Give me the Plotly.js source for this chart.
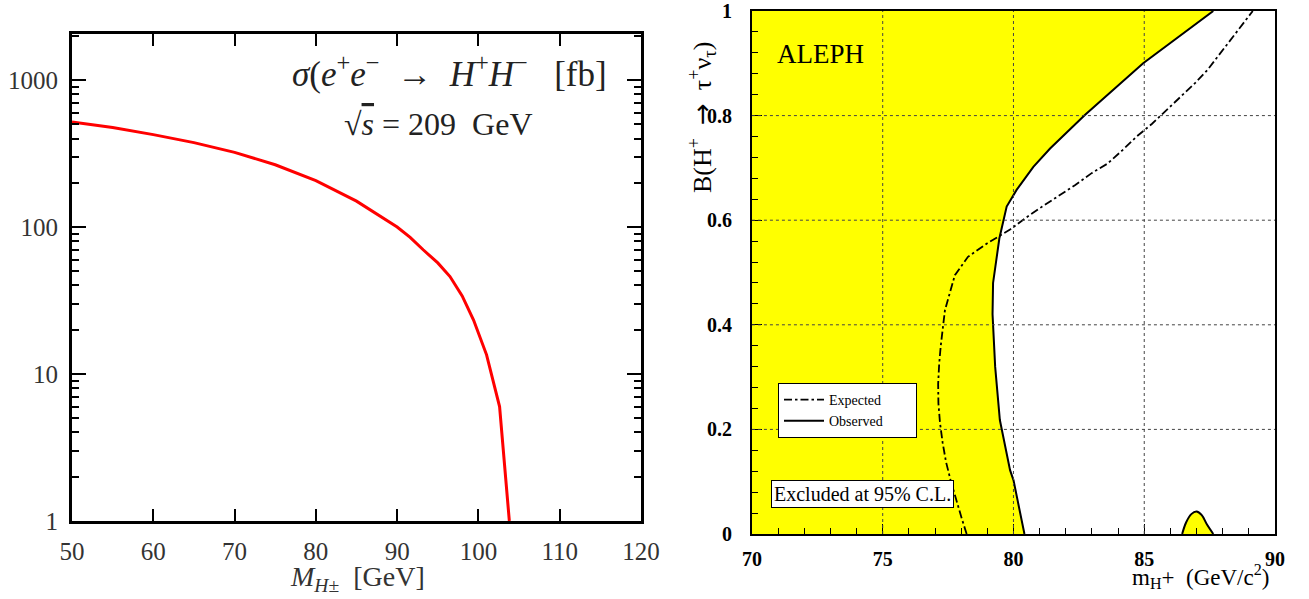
<!DOCTYPE html>
<html>
<head>
<meta charset="utf-8">
<script src="https://cdn.plot.ly/plotly-3.0.1.min.js"></script>
<style>html,body{margin:0;padding:0;background:#fff;}#chart{width:1309px;height:599px;}</style>
</head>
<body>
<div id="chart"></div>
<script>
// ---- Left panel: cross section sigma(e+e- -> H+H-) [fb] vs M_H
const massH = [50, 55, 60, 65, 70, 75, 80, 85, 90, 91.6, 93.2, 95, 96.5, 98, 99.4, 101.0, 102.6, 103.8];
const sigmaFb = [518, 475, 425, 375, 322, 265, 207, 150, 100, 85, 70, 57, 46, 34, 23.3, 13.5, 6.0, 1.0];

// ---- Right panel: ALEPH exclusion
const obsMass = [80.42, 80.0, 79.87, 79.48, 79.3, 79.2, 79.22, 79.46, 79.74, 80.12, 80.76, 81.4, 82.73, 83.82, 84.96, 87.64];
const obsBR   = [0.0, 0.103, 0.122, 0.218, 0.32, 0.42, 0.48, 0.565, 0.626, 0.658, 0.702, 0.737, 0.801, 0.849, 0.900, 1.0];

const expMass = [78.21, 78.02, 77.6, 77.42, 77.29, 77.19, 77.13, 77.12, 77.16, 77.22, 77.38, 77.76, 78.26, 79.0, 79.87, 80.48, 81.1, 81.72, 82.35, 82.99, 83.59, 84.17, 84.71, 85.29, 85.83, 86.37, 86.94, 87.43, 87.9, 88.35, 88.79, 89.15];
const expBR   = [0.0, 0.03, 0.102, 0.138, 0.175, 0.213, 0.25, 0.287, 0.326, 0.36, 0.428, 0.495, 0.530, 0.556, 0.582, 0.605, 0.626, 0.646, 0.667, 0.690, 0.708, 0.734, 0.760, 0.784, 0.809, 0.835, 0.862, 0.888, 0.919, 0.948, 0.977, 1.0];

const bumpMass = [86.45, 86.6, 86.8, 87.0, 87.2, 87.4, 87.64];
const bumpBR   = [0.0, 0.022, 0.038, 0.043, 0.036, 0.018, 0.0];

const rightXRange = [70, 90];
const rightYRange = [0, 1];
const gridX = [75, 80, 85];
const gridY = [0.2, 0.4, 0.6, 0.8];

const leftXTicks = [50, 60, 70, 80, 90, 100, 110, 120];
const leftYTicks = [1, 10, 100, 1000];
const leftYTickText = ['1', '10', '100', '1000'];
const rightXTicks = [70, 75, 80, 85, 90];
const rightYTicks = [0, 0.2, 0.4, 0.6, 0.8, 1];
const rightYTickText = ['0', '0.2', '0.4', '0.6', '0.8', '1'];

// minor tick values for log axis
const leftMinor = [];
[1, 10, 100, 1000].forEach(d => { for (let k = 2; k <= 9; k++) leftMinor.push(k * d); });

const px2x = p => (p - 72) / 1203;
const py2y = p => (534 - p) / 523;

// fill polygon for excluded region (left of observed curve)
const fillX = [rightXRange[0]].concat(obsMass, [rightXRange[0]]);
const fillY = [rightYRange[0]].concat(obsBR, [rightYRange[1]]);

const cm = 'Liberation Serif, DejaVu Serif, serif';
const pad = '&nbsp;&nbsp;&nbsp;&nbsp;&nbsp;&nbsp;&nbsp;&nbsp;';
const traces = [
  {x: massH, y: sigmaFb, xaxis: 'x', yaxis: 'y', mode: 'lines', line: {color: '#ff0000', width: 3}, showlegend: false, hoverinfo: 'skip'},
  {x: fillX, y: fillY, xaxis: 'x2', yaxis: 'y2', mode: 'lines', fill: 'toself', fillcolor: '#ffff00', line: {width: 0}, showlegend: false, hoverinfo: 'skip'},
  {x: bumpMass, y: bumpBR, xaxis: 'x2', yaxis: 'y2', mode: 'lines', fill: 'toself', fillcolor: '#ffff00', line: {color: '#000', width: 2, shape: 'spline'}, showlegend: false, hoverinfo: 'skip'},
  {x: expMass, y: expBR, xaxis: 'x2', yaxis: 'y2', mode: 'lines', name: 'Expected' + pad, line: {color: '#000', width: 1.8, dash: '8px,3px,2.5px,3px'}},
  {x: obsMass, y: obsBR, xaxis: 'x2', yaxis: 'y2', mode: 'lines', name: 'Observed' + pad, line: {color: '#000', width: 2}}
];

const shapes = [];
gridX.forEach(v => shapes.push({type: 'line', xref: 'x2', yref: 'y2', x0: v, x1: v, y0: rightYRange[0], y1: rightYRange[1], line: {color: '#444', width: 1, dash: 'dot'}, layer: 'above'}));
gridY.forEach(v => shapes.push({type: 'line', xref: 'x2', yref: 'y2', x0: rightXRange[0], x1: rightXRange[1], y0: v, y1: v, line: {color: '#444', width: 1, dash: 'dot'}, layer: 'above'}));

const layout = {
  width: 1309, height: 599,
  margin: {l: 72, r: 34, t: 11, b: 65},
  paper_bgcolor: '#fff', plot_bgcolor: '#fff',
  font: {family: cm, color: '#000'},
  showlegend: true,
  xaxis: {
    domain: [0, 0.473], range: [50, 120], tickmode: 'array', tickvals: leftXTicks,
    ticks: 'inside', ticklen: 12, tickwidth: 2, tickcolor: '#000',
    showline: true, linecolor: '#000', linewidth: 3, mirror: 'allticks',
    showgrid: false, zeroline: false, tickfont: {family: cm, size: 25, color: '#333'}, ticklabelstandoff: 6
  },
  yaxis: {
    domain: [0.0249, 0.956], type: 'log', range: [0, 3.313], tickmode: 'array', tickvals: leftYTicks, ticktext: leftYTickText,
    ticks: 'inside', ticklen: 14, tickwidth: 2, tickcolor: '#000',
    minor: {tickmode: 'array', tickvals: leftMinor, ticks: 'inside', ticklen: 7, tickwidth: 2, tickcolor: '#000', showgrid: false},
    showline: true, linecolor: '#000', linewidth: 3, mirror: 'allticks',
    showgrid: false, zeroline: false, tickfont: {family: cm, size: 25, color: '#333'}, ticklabelstandoff: 6
  },
  xaxis2: {
    domain: [0.5652, 1], range: rightXRange, tickmode: 'array', tickvals: rightXTicks, anchor: 'y2',
    ticks: 'inside', ticklen: 10, tickwidth: 1, tickcolor: '#000',
    minor: {dtick: 1, ticks: 'inside', ticklen: 6, tickwidth: 1, tickcolor: '#000', showgrid: false},
    showline: true, linecolor: '#000', linewidth: 2, mirror: true,
    showgrid: false, zeroline: false, tickfont: {family: cm, size: 20, color: '#000', weight: 'bold'}, ticklabelstandoff: 6
  },
  yaxis2: {
    domain: [0, 1], range: rightYRange, tickmode: 'array', tickvals: rightYTicks, ticktext: rightYTickText, anchor: 'x2',
    ticks: 'inside', ticklen: 10, tickwidth: 1, tickcolor: '#000',
    minor: {dtick: 0.04, ticks: 'inside', ticklen: 6, tickwidth: 1, tickcolor: '#000', showgrid: false},
    showline: true, linecolor: '#000', linewidth: 2, mirror: true,
    showgrid: false, zeroline: false, tickfont: {family: cm, size: 20, color: '#000', weight: 'bold'}, ticklabelstandoff: 14
  },
  legend: {
    x: px2x(778), y: py2y(383), xanchor: 'left', yanchor: 'top',
    bgcolor: '#fff', bordercolor: '#000', borderwidth: 1,
    font: {family: cm, size: 14, color: '#000'}, tracegroupgap: 0, itemwidth: 40
  },
  shapes: shapes,
  annotations: [
    {xref: 'paper', yref: 'paper', x: px2x(609), y: py2y(72), xanchor: 'right', yanchor: 'middle', showarrow: false,
     text: '<i>σ</i>(<i>e</i><sup>+</sup><i>e</i><sup>−</sup>&nbsp;&nbsp;→&nbsp;&nbsp;<i>H</i><sup>+</sup><i>H</i><sup>−</sup>&nbsp;&nbsp;&nbsp;[fb]', font: {family: cm, size: 35, color: '#222'}},
    {xref: 'paper', yref: 'paper', x: px2x(438), y: py2y(124), xanchor: 'center', yanchor: 'middle', showarrow: false,
     text: '√<span style="text-decoration:overline"><i>s</i></span> = 209&nbsp;&nbsp;GeV', font: {family: cm, size: 32, color: '#222'}},
    {xref: 'paper', yref: 'paper', x: px2x(357), y: py2y(578), xanchor: 'center', yanchor: 'middle', showarrow: false,
     text: '<i>M</i><sub><i>H</i>±</sub>  [GeV]', font: {family: cm, size: 28, color: '#333'}},
    {xref: 'paper', yref: 'paper', x: px2x(820), y: py2y(54), xanchor: 'center', yanchor: 'middle', showarrow: false,
     text: 'ALEPH', font: {family: cm, size: 27, color: '#000'}},
    {xref: 'paper', yref: 'paper', x: px2x(862), y: py2y(494), xanchor: 'center', yanchor: 'middle', showarrow: false,
     text: 'Excluded at 95% C.L.', font: {family: cm, size: 20, color: '#000'}, bgcolor: '#fff', bordercolor: '#000', borderwidth: 1, borderpad: 2},
    {xref: 'paper', yref: 'paper', x: px2x(702), y: py2y(118), xanchor: 'center', yanchor: 'middle', showarrow: false, textangle: -90,
     text: 'B(H<sup>+</sup>&nbsp;&nbsp;<span style="font-family:DejaVu Sans">→</span>&nbsp;&nbsp;τ<sup>+</sup>ν<sub>τ</sub>)', font: {family: cm, size: 26, color: '#000'}},
    {xref: 'paper', yref: 'paper', x: px2x(1200), y: py2y(576), xanchor: 'center', yanchor: 'middle', showarrow: false,
     text: 'm<sub>H</sub>+  (GeV/c<sup>2</sup>)', font: {family: cm, size: 23, color: '#000'}}
  ]
};

Plotly.newPlot('chart', traces, layout, {displayModeBar: false, staticPlot: true});
</script>
</body>
</html>
